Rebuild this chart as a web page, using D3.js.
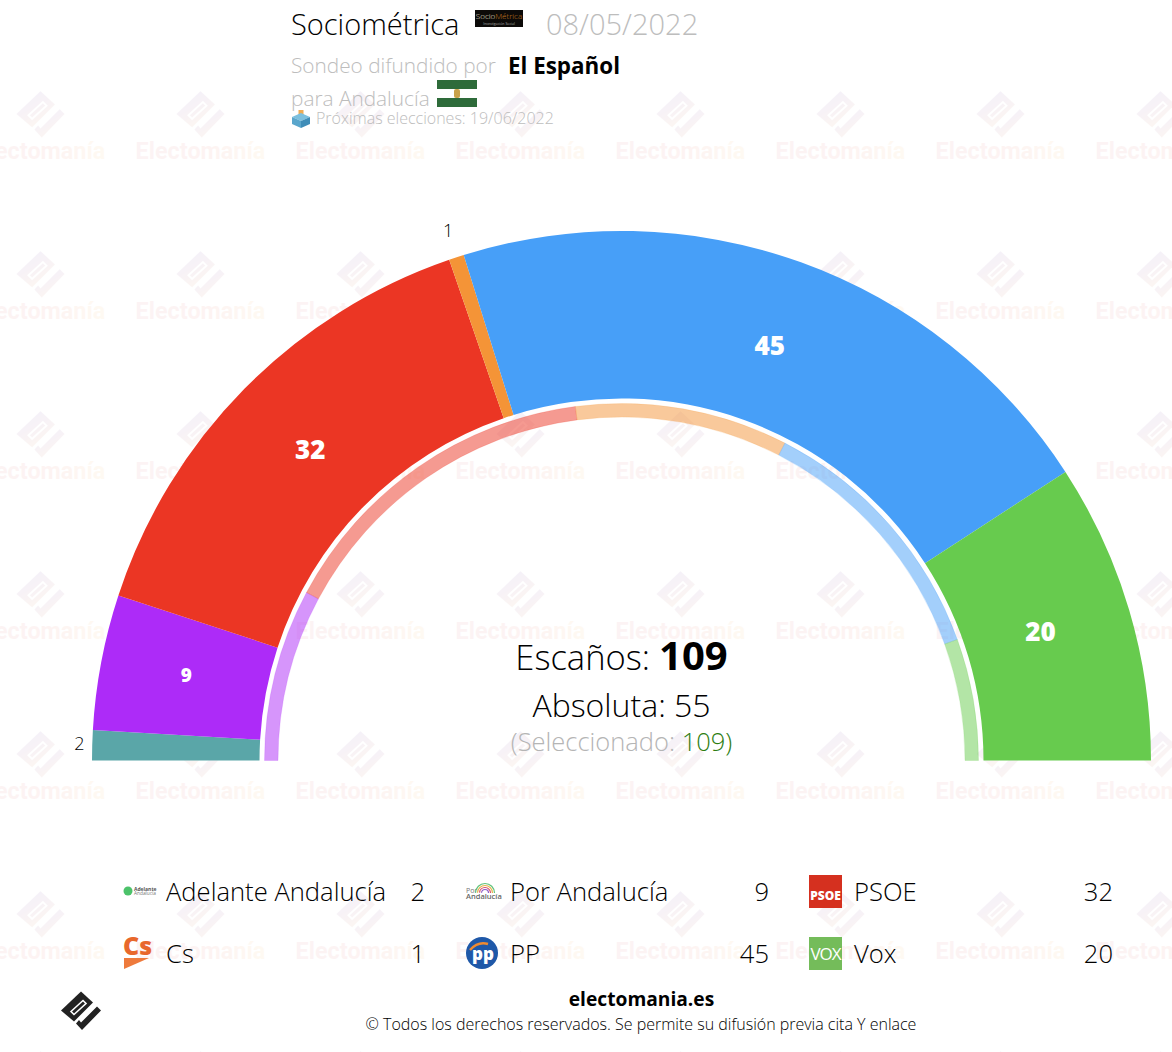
<!DOCTYPE html>
<html>
<head>
<meta charset="utf-8">
<script src="https://cdn.jsdelivr.net/npm/d3@7"></script>
<style>
html, body { margin: 0; padding: 0; background: #fff; }
svg { display: block; }
text { font-family: "Open Sans", sans-serif; }
</style>
</head>
<body>
<div id="chart"></div>
<script>
var parties = ["Adelante Andalucía", "Por Andalucía", "PSOE", "Cs", "PP", "Vox"];
var seats = [2, 9, 32, 1, 45, 20];
var partyColors = ["#5aa6a8", "#ad2bf8", "#eb3624", "#f49437", "#479ff8", "#67cb4e"];
var previousSeats = [17, 33, 21, 26, 12];
var previousColors = ["#ad2bf8", "#eb3624", "#f49437", "#479ff8", "#67cb4e"];
var legendOrder = [0, 1, 2, 3, 4, 5];
var totalSeats = 109;
var majority = 55;

var w = 1172;
var h = 1052;
var cx = 621.5;
var cy = 760.5;

var svg = d3.select("#chart")
    .append("svg")
    .attr("width", w)
    .attr("height", h);

var defs = svg.append("defs");

var textGrad = defs.append("linearGradient").attr("id", "wmText");
textGrad.append("stop").attr("offset", "0%").attr("stop-color", "#d86a78");
textGrad.append("stop").attr("offset", "60%").attr("stop-color", "#ee7060");
textGrad.append("stop").attr("offset", "100%").attr("stop-color", "#f8c060");

var markGrad = defs.append("linearGradient").attr("id", "wmMark")
    .attr("x1", "0%").attr("y1", "0%").attr("x2", "60%").attr("y2", "100%");
markGrad.append("stop").attr("offset", "0%").attr("stop-color", "#5a48c0");
markGrad.append("stop").attr("offset", "50%").attr("stop-color", "#a0609a");
markGrad.append("stop").attr("offset", "100%").attr("stop-color", "#e89050");

// the diamond logo, also used for the watermark
function drawMark(g, fill) {
    g.append("path")
        .attr("fill", fill)
        .attr("d", "M-20,0 L0,-19 L12,-8 L-7,11 Z");
    g.append("path")
        .attr("fill", "none")
        .attr("stroke", "#fff")
        .attr("stroke-width", 1.6)
        .attr("d", "M-10,1 L2,-10 L5,-7 L-7,4 Z");
    g.append("path")
        .attr("fill", fill)
        .attr("d", "M-5,13 L1,19.5 L20,0 L16,-4 L0,12 L-2,9.5 Z");
}

// watermark grid
var wmCols = d3.range(-1, 8);
var wmRows = d3.range(0, 7);
var watermark = svg.append("g");
wmRows.forEach(function (r) {
    wmCols.forEach(function (c) {
        var x = 40.5 + c * 160;
        var y = 114 + r * 160;
        drawMark(watermark.append("g")
            .attr("opacity", 0.075)
            .attr("transform", "translate(" + x + "," + y + ") scale(1.2)"), "url(#wmMark)");
        watermark.append("text")
            .attr("x", x)
            .attr("y", y + 44.5)
            .attr("text-anchor", "middle")
            .attr("font-size", "23.4px")
            .attr("font-weight", 700)
            .attr("fill", "url(#wmText)")
            .attr("opacity", 0.075)
            .style("font-family", "Roboto, sans-serif")
            .text("Electomanía");
    });
});

// seats to angle, left end of the half circle to the right end
var angle = d3.scaleLinear()
    .domain([0, totalSeats])
    .range([-Math.PI / 2, Math.PI / 2]);

function stack(values) {
    var sum = 0;
    return values.map(function (v, i) {
        var d = { value: v, index: i, start: sum, end: sum + v };
        sum += v;
        return d;
    });
}

var mainArc = d3.arc()
    .innerRadius(362)
    .outerRadius(529.5)
    .startAngle(function (d) { return angle(d.start); })
    .endAngle(function (d) { return angle(d.end); });

var ringArc = d3.arc()
    .innerRadius(343.5)
    .outerRadius(357)
    .startAngle(function (d) { return angle(d.start); })
    .endAngle(function (d) { return angle(d.end); });

var chart = svg.append("g").attr("transform", "translate(" + cx + "," + cy + ")");

var mainData = stack(seats);

chart.selectAll("path.main")
    .data(mainData)
    .enter()
    .append("path")
    .attr("class", "main")
    .attr("d", mainArc)
    .attr("fill", function (d) { return partyColors[d.index]; });

chart.selectAll("path.ring")
    .data(stack(previousSeats))
    .enter()
    .append("path")
    .attr("class", "ring")
    .attr("d", ringArc)
    .attr("fill", function (d) { return previousColors[d.index]; })
    .attr("fill-opacity", 0.5)
    .attr("stroke", function (d) { return previousColors[d.index]; })
    .attr("stroke-opacity", 0.25)
    .attr("stroke-width", 0.7);

// labels: big slices inside in white, small ones outside in black
chart.selectAll("text.seat")
    .data(mainData)
    .enter()
    .append("text")
    .attr("class", "seat")
    .attr("transform", function (d) {
        var a = angle((d.start + d.end) / 2) - Math.PI / 2;
        var r = d.value < 3 ? 542 - 15 * Math.sin(a) : (d.value < 10 ? 443 : 437);
        return "translate(" + (r * Math.cos(a)) + "," + (r * Math.sin(a)) + ")";
    })
    .attr("text-anchor", "middle")
    .attr("dy", function (d) { return d.value < 3 ? "0.3em" : "0.2em"; })
    .attr("font-size", function (d) {
        if (d.value < 3) return "18px";
        return d.value < 10 ? "19px" : "26px";
    })
    .attr("font-weight", function (d) { return d.value < 3 ? 300 : 800; })
    .attr("fill", function (d) { return d.value < 3 ? "#000" : "#fff"; })
    .text(function (d) { return d.value; });

// centre texts
var centre = svg.append("g").attr("text-anchor", "middle");
var t1 = centre.append("text").attr("x", cx).attr("y", 670).attr("font-size", "34.5px").attr("font-weight", 300);
t1.append("tspan").text("Escaños: ");
t1.append("tspan").attr("font-size", "40px").attr("font-weight", 700).text(totalSeats);
centre.append("text").attr("x", cx).attr("y", 717).attr("font-size", "32px").attr("font-weight", 300)
    .text("Absoluta: " + majority);
var t3 = centre.append("text").attr("x", cx).attr("y", 751).attr("font-size", "25.5px").attr("font-weight", 300);
t3.append("tspan").attr("fill", "#b5b5b5").text("(Seleccionado: ");
t3.append("tspan").attr("fill", "#2e7d12").text(totalSeats);
t3.append("tspan").attr("fill", "#2e7d12").text(")");

// header
svg.append("text").attr("x", 291).attr("y", 35).attr("font-size", "29px").attr("font-weight", 300)
    .text("Sociométrica");
svg.append("text").attr("x", 546).attr("y", 35).attr("font-size", "29px").attr("font-weight", 300).attr("fill", "#bdbdbd")
    .text("08/05/2022");
svg.append("text").attr("x", 291).attr("y", 73).attr("font-size", "20.8px").attr("font-weight", 300).attr("fill", "#bdbdbd")
    .text("Sondeo difundido por");
svg.append("text").attr("x", 508).attr("y", 74).attr("font-size", "22.4px").attr("font-weight", 700)
    .text("El Español");
svg.append("text").attr("x", 291).attr("y", 106).attr("font-size", "20.8px").attr("font-weight", 300).attr("fill", "#bdbdbd")
    .text("para Andalucía");
svg.append("text").attr("x", 316).attr("y", 124).attr("font-size", "16px").attr("font-weight", 300).attr("fill", "#bdbdbd")
    .text("Próximas elecciones: 19/06/2022");

// pollster logo
var pollster = svg.append("g").attr("transform", "translate(475,10)");
pollster.append("rect").attr("width", 48).attr("height", 17).attr("fill", "#0c0a08");
var pollsterName = pollster.append("text").attr("x", 24).attr("y", 9).attr("text-anchor", "middle").attr("font-size", "8px").attr("font-weight", 300);
pollsterName.append("tspan").attr("fill", "#e8e0d0").text("Socio");
pollsterName.append("tspan").attr("fill", "#c87a20").text("Métrica");
pollster.append("text").attr("x", 24).attr("y", 14.5).attr("text-anchor", "middle").attr("font-size", "3.5px").attr("fill", "#aaa").text("Investigación Social");

// Andalucia flag
var flag = svg.append("g").attr("transform", "translate(437,80)");
flag.append("rect").attr("width", 40).attr("height", 9).attr("fill", "#2e6b3a");
flag.append("rect").attr("y", 18).attr("width", 40).attr("height", 9).attr("fill", "#2e6b3a");
flag.append("rect").attr("x", 17).attr("y", 9).attr("width", 6).attr("height", 9).attr("rx", 2).attr("fill", "#c9a24a");

// ballot box
var box = svg.append("g").attr("transform", "translate(292,110)");
box.append("rect").attr("x", 6.5).attr("y", 0).attr("width", 5).attr("height", 7).attr("fill", "#eeac55");
box.append("path").attr("fill", "#7cc0de").attr("d", "M0,7 L9,3 L18,7 L9,11 Z");
box.append("path").attr("fill", "#5aa6cc").attr("d", "M0,7 L9,11 L9,18 L0,14 Z");
box.append("path").attr("fill", "#3f8db8").attr("d", "M18,7 L9,11 L9,18 L18,14 Z");

// legend
var legendX = [123, 467, 811];
var legendY = [892, 954];
var legendNameDx = 43;
var legendValueX = [425, 769, 1113];

var logoDrawers = [
    function (g) {
        g.append("circle").attr("cx", 5).attr("cy", -1).attr("r", 4.5).attr("fill", "#4cc26a");
        g.append("text").attr("x", 11).attr("y", -1.5).attr("font-size", "5px").attr("font-weight", 700).attr("fill", "#555").text("Adelante");
        g.append("text").attr("x", 11).attr("y", 3).attr("font-size", "4.8px").attr("fill", "#777").text("Andalucía");
    },
    function (g) {
        g.append("text").attr("x", -1).attr("y", 1).attr("font-size", "7px").attr("fill", "#777").text("Por");
        g.append("text").attr("x", -1).attr("y", 7).attr("font-size", "7.5px").attr("font-weight", 600).attr("fill", "#666").text("Andalucía");
        [["#5fc27a", 9.5], ["#e8b24a", 7.5], ["#d84c6a", 5.5], ["#8a5cc8", 3.5]].forEach(function (b) {
            g.append("circle").attr("cx", 18).attr("cy", 1).attr("r", b[1]).attr("fill", "none").attr("stroke", b[0]).attr("stroke-width", 1.2)
                .attr("stroke-dasharray", (Math.PI * b[1]) + " " + (Math.PI * b[1])).attr("stroke-dashoffset", -Math.PI * b[1]);
        });
    },
    function (g) {
        g.append("rect").attr("x", -2).attr("y", -17).attr("width", 33).attr("height", 33).attr("fill", "#d5301f");
        g.append("text").attr("x", 14.5).attr("y", 8).attr("text-anchor", "middle").attr("font-size", "12px").attr("font-weight", 800).attr("fill", "#fff").text("PSOE");
    },
    function (g) {
        g.append("text").attr("x", 0).attr("y", 1).attr("font-size", "25px").attr("font-weight", 800).attr("fill", "#e8682c").text("Cs");
        g.append("path").attr("fill", "#ee7a3c").attr("d", "M1,4 L26,4 L1,15 Z");
    },
    function (g) {
        g.append("circle").attr("cx", 15).attr("cy", -1).attr("r", 16).attr("fill", "#1f58a8");
        g.append("path").attr("fill", "none").attr("stroke", "#f08a30").attr("stroke-width", 2.5).attr("d", "M3,-4 Q11,-13 21,-10");
        g.append("text").attr("x", 16).attr("y", 6).attr("text-anchor", "middle").attr("font-size", "17px").attr("font-weight", 800).attr("fill", "#fff").text("pp");
    },
    function (g) {
        g.append("rect").attr("x", -2).attr("y", -17).attr("width", 33).attr("height", 33).attr("fill", "#74bc5a");
        g.append("text").attr("x", 14.5).attr("y", 6).attr("text-anchor", "middle").attr("font-size", "17px").attr("font-weight", 400).attr("fill", "#fff").attr("letter-spacing", "-1px").text("VOX");
    }
];

var legend = svg.selectAll("g.legend")
    .data(legendOrder)
    .enter()
    .append("g")
    .attr("class", "legend")
    .attr("transform", function (d, i) {
        return "translate(" + legendX[i % 3] + "," + legendY[Math.floor(i / 3)] + ")";
    });

legend.each(function (d) { logoDrawers[d](d3.select(this)); });

legend.append("text")
    .attr("x", legendNameDx)
    .attr("y", 9)
    .attr("font-size", "25.6px")
    .attr("font-weight", 300)
    .text(function (d) { return parties[d]; });

legend.append("text")
    .attr("x", function (d, i) { return legendValueX[i % 3] - legendX[i % 3]; })
    .attr("y", 9)
    .attr("text-anchor", "end")
    .attr("font-size", "25.6px")
    .attr("font-weight", 300)
    .text(function (d) { return seats[d]; });

// footer
svg.append("text").attr("x", 641.5).attr("y", 1006).attr("text-anchor", "middle").attr("font-size", "19.2px").attr("font-weight", 700)
    .text("electomania.es");
svg.append("text").attr("x", 641).attr("y", 1030).attr("text-anchor", "middle").attr("font-size", "16px").attr("font-weight", 300)
    .text("© Todos los derechos reservados. Se permite su difusión previa cita Y enlace");
drawMark(svg.append("g").attr("transform", "translate(81,1010.5)"), "#222");
</script>
</body>
</html>
